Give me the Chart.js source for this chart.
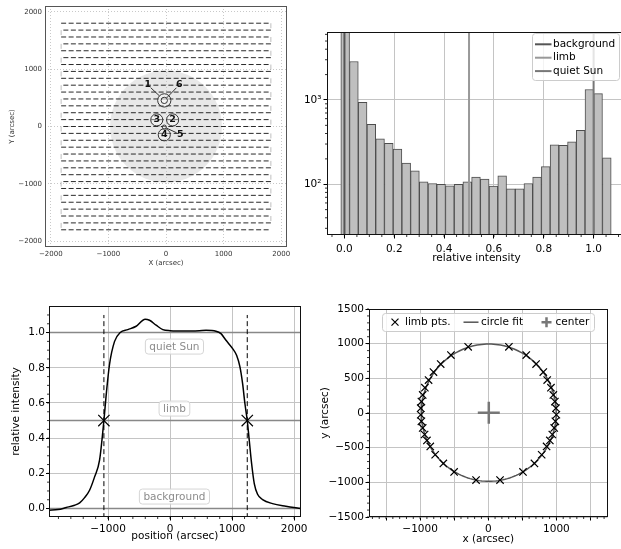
<!DOCTYPE html>
<html>
<head>
<meta charset="utf-8">
<script src="https://cdn.jsdelivr.net/npm/chart.js@4.4.1/dist/chart.umd.min.js"></script>
<style>
html, body { margin: 0; padding: 0; background: #fff; overflow: hidden; width: 621px; height: 549px; }
canvas { position: absolute; }
</style>
</head>
<body>
<canvas id="scanMap" width="300" height="270" style="left:0;top:0"></canvas>
<canvas id="histogram" width="330" height="270" style="left:300px;top:0"></canvas>
<canvas id="profile" width="310" height="279" style="left:0;top:270px"></canvas>
<canvas id="limbFit" width="311" height="279" style="left:310px;top:270px"></canvas>
<script>
// scan map (top left)
var scanRowY = [1800, 1680, 1560, 1440, 1320, 1200, 1080, 960, 840, 720, 600, 480, 360, 240, 120, 0,
    -120, -240, -360, -480, -600, -720, -840, -960, -1080, -1200, -1320, -1440, -1560, -1680, -1800];
var scanRowEnds = [-1820, 1820];
var diskCenter = [0, 0];
var diskRadius = 970;
var apertureNames = ['1', '2', '3', '4', '5', '6'];
var apertureX = [-30, 115, -160, -30, -30, -30];
var apertureY = [455, 115, 115, -145, -10, 455];
var apertureR = [115, 105, 105, 105, 35, 55];
var apertureLabelX = [-317, 115, -160, -30, 247, 229];
var apertureLabelY = [725, 115, 115, -145, -139, 725];
var mapTicks = [-2000, -1000, 0, 1000, 2000];

// histogram (top right)
var binCenters = [0.003, 0.038, 0.073, 0.108, 0.143, 0.178, 0.213, 0.248, 0.283, 0.318, 0.353, 0.388, 0.423, 0.458, 0.493, 0.528,
    0.563, 0.598, 0.633, 0.668, 0.703, 0.738, 0.773, 0.808, 0.843, 0.878, 0.913, 0.948, 0.983, 1.018, 1.053];
var binCounts = [9000, 2860, 940, 515, 345, 305, 262, 178, 144, 107, 102, 100, 96, 100, 107, 122,
    115, 95, 126, 88, 88, 102, 122, 162, 294, 290, 319, 435, 1330, 1190, 206];
var histXTicks = [0, 0.2, 0.4, 0.6, 0.8, 1.0];
var histYTicks = [100, 1000];
var levelNames = ['background', 'limb', 'quiet Sun'];
var levelValues = [0, 0.5, 1.0];

// intensity profile (bottom left)
var profileX = [-1952, -1807, -1673, -1539, -1458, -1378, -1298, -1217, -1137, -1067, -1029, -976, -895, -804, -681, -547,
    -402, -332, -225, -118, 0, 257, 472, 579, 740, 820, 901, 1008, 1072, 1126, 1169, 1206, 1244, 1276, 1314, 1357,
    1410, 1491, 1651, 1866, 2107];
var profileY = [-0.009, -0.006, 0.006, 0.019, 0.032, 0.062, 0.104, 0.18, 0.275, 0.5, 0.65, 0.82, 0.95, 1.0, 1.017, 1.036,
    1.076, 1.07, 1.042, 1.017, 1.011, 1.009, 1.011, 1.013, 1.008, 0.994, 0.956, 0.909, 0.871, 0.805, 0.71, 0.597, 0.5, 0.388, 0.256, 0.142,
    0.081, 0.051, 0.028, 0.013, 0.0];
var limbX = [-1067, 1244];
var profileXTicks = [-1000, 0, 1000, 2000];
var profileYTicks = [0, 0.2, 0.4, 0.6, 0.8, 1.0];
var levelLabelX = 70;

// limb fit (bottom right)
var limbPtsY = [955, 835, 705, 590, 475, 365, 260, 165, 70, -25, -120, -215, -310, -395, -482, -602, -727, -850, -968];
var limbPtsLeftX = [-295, -548, -698, -804, -876, -930, -962, -981, -991, -991, -981, -962, -934, -900, -851, -779, -659, -501, -179];
var limbPtsRightX = [303, 558, 702, 808, 865, 920, 955, 978, 993, 1000, 985, 968, 940, 904, 856, 784, 678, 510, 173];
var fitCenter = [8, 5];
var fitRadius = 990;
var fitTicks = [-1500, -1000, -500, 0, 500, 1000, 1500];

var levelColors = ['#555', '#999', '#777'];
var FONT = '"DejaVu Sans", sans-serif';

Chart.defaults.font.family = FONT;
Chart.defaults.font.size = 10.5;
Chart.defaults.color = '#000';
Chart.defaults.animation = false;
Chart.defaults.events = [];
Chart.defaults.plugins.legend.display = false;
Chart.defaults.plugins.tooltip.enabled = false;

function fmtInt(v) { return (v < 0 ? '\u2212' : '') + Math.abs(v); }
function fixedTicks(list) {
    return function (scale) { scale.ticks = list.map(function (v) { return {value: v}; }); };
}
function fitAxis(size) {
    return function (scale) {
        if (scale.isHorizontal()) { scale.height = size; } else { scale.width = size; }
        scale.paddingLeft = scale.paddingRight = scale.paddingTop = scale.paddingBottom = 0;
    };
}
function steps(from, to, step) {
    var out = [];
    for (var v = from; v <= to + 1e-9; v += step) out.push(+v.toFixed(6));
    return out;
}
function frame(color) {
    return {
        id: 'frame',
        afterDatasetsDraw: function (chart) {
            var a = chart.chartArea, ctx = chart.ctx;
            ctx.save();
            ctx.strokeStyle = color;
            ctx.lineWidth = 1;
            ctx.strokeRect(Math.round(a.left) + 0.5, Math.round(a.top) + 0.5, Math.round(a.right - a.left) - 1, Math.round(a.bottom - a.top) - 1);
            ctx.restore();
        }
    };
}
function minorTicks(xs, ys) {
    return {
        id: 'minorTicks',
        afterDatasetsDraw: function (chart) {
            var a = chart.chartArea, ctx = chart.ctx;
            ctx.save();
            ctx.strokeStyle = '#000';
            ctx.lineWidth = 0.8;
            ctx.beginPath();
            xs.forEach(function (v) {
                var p = chart.scales.x.getPixelForValue(v);
                if (p < a.left || p > a.right) return;
                ctx.moveTo(p, a.bottom); ctx.lineTo(p, a.bottom + 2);
            });
            ys.forEach(function (v) {
                var p = chart.scales.y.getPixelForValue(v);
                if (p < a.top || p > a.bottom) return;
                ctx.moveTo(a.left, p); ctx.lineTo(a.left - 2, p);
            });
            ctx.stroke();
            ctx.restore();
        }
    };
}

// ---------- scan map ----------
var scanPath = [];
scanRowY.forEach(function (y, i) {
    var a = i % 2 === 0 ? scanRowEnds[0] : scanRowEnds[1];
    var b = i % 2 === 0 ? scanRowEnds[1] : scanRowEnds[0];
    scanPath.push({x: a, y: y}, {x: b, y: y});
});

var sunDiskPlugin = {
    id: 'sunDisk',
    beforeDatasetsDraw: function (chart) {
        var xs = chart.scales.x, ys = chart.scales.y, ctx = chart.ctx;
        var cx = xs.getPixelForValue(diskCenter[0]), cy = ys.getPixelForValue(diskCenter[1]);
        var r = xs.getPixelForValue(diskCenter[0] + diskRadius) - cx;
        ctx.save();
        ctx.fillStyle = 'rgba(200,200,200,0.42)';
        ctx.beginPath();
        ctx.arc(cx, cy, r, 0, 2 * Math.PI);
        ctx.fill();
        ctx.restore();
    }
};

var aperturePlugin = {
    id: 'apertures',
    afterDatasetsDraw: function (chart) {
        var xs = chart.scales.x, ys = chart.scales.y, ctx = chart.ctx;
        ctx.save();
        ctx.lineWidth = 1;
        ctx.strokeStyle = '#333';
        apertureNames.forEach(function (name, i) {
            var cx = xs.getPixelForValue(apertureX[i]), cy = ys.getPixelForValue(apertureY[i]);
            var r = xs.getPixelForValue(apertureX[i] + apertureR[i]) - cx;
            ctx.beginPath();
            ctx.arc(cx, cy, r, 0, 2 * Math.PI);
            ctx.fillStyle = 'rgba(255,255,255,0.35)';
            ctx.fill();
            ctx.stroke();
        });
        ctx.font = 'bold 9.5px ' + FONT;
        ctx.textAlign = 'center';
        ctx.textBaseline = 'middle';
        ctx.fillStyle = '#111';
        apertureNames.forEach(function (name, i) {
            var cx = xs.getPixelForValue(apertureX[i]), cy = ys.getPixelForValue(apertureY[i]);
            var r = xs.getPixelForValue(apertureX[i] + apertureR[i]) - cx;
            var lx = xs.getPixelForValue(apertureLabelX[i]), ly = ys.getPixelForValue(apertureLabelY[i]);
            var d = Math.hypot(lx - cx, ly - cy);
            if (d > r + 1) {
                var ux = (cx - lx) / d, uy = (cy - ly) / d;
                ctx.beginPath();
                ctx.moveTo(lx + ux * 4, ly + uy * 4);
                ctx.lineTo(cx - ux * r, cy - uy * r);
                ctx.stroke();
            }
            ctx.fillText(name, lx, ly);
        });
        ctx.restore();
    }
};

var ctx1 = document.getElementById('scanMap').getContext('2d');
var mapChart = new Chart(ctx1, {
    type: 'scatter',
    data: {
        datasets: [{
            type: 'line',
            data: scanPath,
            borderColor: '#2a2a2a',
            borderWidth: 1,
            borderDash: [5, 2.5],
            pointRadius: 0,
            fill: false,
            segment: {
                // the turn between two rows is barely visible in the scan path
                borderColor: function (c) { return c.p0.parsed.y !== c.p1.parsed.y ? 'rgba(0,0,0,0.25)' : undefined; }
            }
        }]
    },
    options: {
        responsive: false,
        layout: {padding: {left: 0, top: 6, right: 13, bottom: 0}},
        scales: {
            x: {
                type: 'linear', min: -2100, max: 2100,
                afterBuildTicks: fixedTicks(mapTicks), afterFit: fitAxis(23),
                ticks: {font: {size: 7}, color: '#333', padding: 3, maxRotation: 0, autoSkip: false, callback: fmtInt},
                grid: {color: '#bbb', lineWidth: 0.8, drawTicks: false},
                border: {display: false, dash: [1, 2]},
                title: {display: true, text: 'X (arcsec)', font: {size: 7}, color: '#333', padding: {top: 0, bottom: 2.5}}
            },
            y: {
                type: 'linear', min: -2100, max: 2100,
                afterBuildTicks: fixedTicks(mapTicks), afterFit: fitAxis(45),
                ticks: {font: {size: 7}, color: '#333', padding: 3, autoSkip: false, callback: fmtInt},
                grid: {color: '#bbb', lineWidth: 0.8, drawTicks: false},
                border: {display: false, dash: [1, 2]},
                title: {display: true, text: 'Y (arcsec)', font: {size: 7}, color: '#333', padding: {top: 7.5, bottom: 0}}
            }
        }
    },
    plugins: [sunDiskPlugin, aperturePlugin, frame('#555')]
});

// ---------- histogram ----------
var histDatasets = [{
    type: 'bar',
    data: binCenters.map(function (x, i) { return {x: x, y: binCounts[i]}; }),
    backgroundColor: '#bfbfbf',
    borderColor: '#4d4d4d',
    borderWidth: 1,
    barPercentage: 1,
    categoryPercentage: 1,
    clip: 0,
    order: 1
}];
levelValues.forEach(function (v, i) {
    histDatasets.push({
        type: 'line',
        label: levelNames[i],
        data: [{x: v, y: 1}, {x: v, y: 1e6}],
        borderColor: levelColors[i],
        borderWidth: 2,
        pointRadius: 0,
        clip: 0,
        order: 0
    });
});

var histLegendPlugin = {
    id: 'histLegend',
    afterDraw: function (chart) {
        var ctx = chart.ctx, a = chart.chartArea;
        var x0 = a.right - 94, y0 = a.top + 1, w = 87, h = 47;
        ctx.save();
        ctx.beginPath();
        ctx.roundRect(x0 + 0.5, y0 + 0.5, w, h, 3);
        ctx.fillStyle = 'rgba(255,255,255,0.8)';
        ctx.fill();
        ctx.strokeStyle = '#ccc';
        ctx.lineWidth = 1;
        ctx.stroke();
        ctx.font = '10.5px ' + FONT;
        ctx.textBaseline = 'middle';
        ctx.fillStyle = '#000';
        chart.data.datasets.forEach(function (ds, i) {
            if (ds.type !== 'line') return;
            var y = y0 + 11.3 + (i - 1) * 13.4;
            ctx.strokeStyle = ds.borderColor;
            ctx.lineWidth = 2;
            ctx.beginPath();
            ctx.moveTo(x0 + 3, y);
            ctx.lineTo(x0 + 19.5, y);
            ctx.stroke();
            ctx.fillText(ds.label, x0 + 21, y);
        });
        ctx.restore();
    }
};

var logMinor = [];
[10, 100, 1000].forEach(function (d) { for (var m = 2; m <= 9; m++) logMinor.push(m * d); });

var ctx2 = document.getElementById('histogram').getContext('2d');
var histChart = new Chart(ctx2, {
    type: 'bar',
    data: {datasets: histDatasets},
    options: {
        responsive: false,
        layout: {padding: {left: 0, top: 32, right: 4, bottom: 0}},
        scales: {
            x: {
                type: 'linear', min: -0.07, max: 1.13, offset: false,
                afterBuildTicks: fixedTicks(histXTicks), afterFit: fitAxis(35),
                ticks: {padding: 4.5, maxRotation: 0, autoSkip: false, callback: function (v) { return v.toFixed(1); }},
                grid: {offset: false, color: '#c4c4c4', tickLength: 3.5, tickColor: '#000'},
                border: {display: false},
                title: {display: true, text: 'relative intensity', padding: {top: 0, bottom: 5.5}}
            },
            y: {
                type: 'logarithmic', min: 25, max: 6400,
                afterBuildTicks: fixedTicks(histYTicks), afterFit: fitAxis(27),
                ticks: {padding: 2, autoSkip: false, callback: function (v) { return v === 100 ? '10\u00b2' : '10\u00b3'; }},
                grid: {color: '#c4c4c4', tickLength: 3.5, tickColor: '#000'},
                border: {display: false}
            }
        }
    },
    plugins: [minorTicks(steps(-0.05, 1.1, 0.05), logMinor), frame('#111'), histLegendPlugin]
});

// ---------- intensity profile ----------
var levelBoxPlugin = {
    id: 'levelBoxes',
    afterDatasetsDraw: function (chart) {
        var ctx = chart.ctx, xs = chart.scales.x, ys = chart.scales.y;
        var shift = [-12, -12, 14];
        ctx.save();
        ctx.font = '10.5px ' + FONT;
        ctx.textAlign = 'center';
        ctx.textBaseline = 'middle';
        levelNames.forEach(function (name, i) {
            var cx = xs.getPixelForValue(levelLabelX), cy = ys.getPixelForValue(levelValues[i]) + shift[i];
            var w = ctx.measureText(name).width + 8, h = 15;
            ctx.beginPath();
            ctx.roundRect(cx - w / 2, cy - h / 2, w, h, 3);
            ctx.fillStyle = 'rgba(255,255,255,0.8)';
            ctx.fill();
            ctx.strokeStyle = '#d5d5d5';
            ctx.lineWidth = 1;
            ctx.stroke();
            ctx.fillStyle = '#8c8c8c';
            ctx.fillText(name, cx, cy + 0.5);
        });
        ctx.restore();
    }
};

var profileDatasets = [{
    type: 'line',
    data: profileX.map(function (x, i) { return {x: x, y: profileY[i]}; }),
    borderColor: '#000',
    borderWidth: 1.5,
    pointRadius: 0,
    cubicInterpolationMode: 'monotone',
    order: 0
}, {
    type: 'scatter',
    data: limbX.map(function (x) { return {x: x, y: 0.5}; }),
    pointStyle: 'crossRot',
    pointRadius: 8,
    borderColor: '#000',
    borderWidth: 1.2,
    order: 0
}];
limbX.forEach(function (x) {
    profileDatasets.push({
        type: 'line',
        data: [{x: x, y: -0.1}, {x: x, y: 1.1}],
        borderColor: '#000',
        borderWidth: 1,
        borderDash: [5, 3],
        pointRadius: 0,
        order: 1
    });
});
levelValues.forEach(function (v) {
    profileDatasets.push({
        type: 'line',
        data: [{x: -3000, y: v}, {x: 3000, y: v}],
        borderColor: '#888',
        borderWidth: 1.5,
        pointRadius: 0,
        order: 2
    });
});

var ctx3 = document.getElementById('profile').getContext('2d');
var profileChart = new Chart(ctx3, {
    type: 'scatter',
    data: {datasets: profileDatasets},
    options: {
        responsive: false,
        layout: {padding: {left: 0, top: 36, right: 8, bottom: 0}},
        scales: {
            x: {
                type: 'linear', min: -1952, max: 2107,
                afterBuildTicks: fixedTicks(profileXTicks), afterFit: fitAxis(32),
                ticks: {padding: 2.5, maxRotation: 0, autoSkip: false, callback: fmtInt},
                grid: {color: '#c4c4c4', tickLength: 3.5, tickColor: '#000'},
                border: {display: false},
                title: {display: true, text: 'position (arcsec)', padding: {top: 0, bottom: 6}}
            },
            y: {
                type: 'linear', min: -0.048, max: 1.151,
                afterBuildTicks: fixedTicks(profileYTicks), afterFit: fitAxis(49),
                ticks: {padding: 1, autoSkip: false, callback: function (v) { return v.toFixed(1); }},
                grid: {color: '#c4c4c4', tickLength: 3, tickColor: '#000'},
                border: {display: false},
                title: {display: true, text: 'relative intensity', padding: {top: 10, bottom: 0}}
            }
        }
    },
    plugins: [levelBoxPlugin, minorTicks(steps(-1800, 2000, 200), steps(0, 1.1, 0.05)), frame('#111')]
});

// ---------- limb fit ----------
var fitCircle = [];
for (var k = 0; k <= 180; k++) {
    var t = k / 180 * 2 * Math.PI;
    fitCircle.push({x: fitCenter[0] + fitRadius * Math.cos(t), y: fitCenter[1] + fitRadius * Math.sin(t)});
}
var limbPts = [];
limbPtsY.forEach(function (y, i) {
    limbPts.push({x: limbPtsLeftX[i], y: y}, {x: limbPtsRightX[i], y: y});
});

var fitLegendPlugin = {
    id: 'fitLegend',
    afterDraw: function (chart) {
        var ctx = chart.ctx, a = chart.chartArea;
        var w = 212, h = 18, x0 = Math.round((a.left + a.right) / 2 - w / 2) + 0.5, y0 = a.top + 4.5, yc = y0 + 8.7;
        var ds = chart.data.datasets;
        ctx.save();
        ctx.beginPath();
        ctx.roundRect(x0, y0, w, h, 3);
        ctx.fillStyle = 'rgba(255,255,255,0.8)';
        ctx.fill();
        ctx.strokeStyle = '#ccc';
        ctx.lineWidth = 1;
        ctx.stroke();
        ctx.strokeStyle = '#000';
        ctx.lineWidth = 1.2;
        ctx.beginPath();
        ctx.moveTo(x0 + 9, yc - 3.5); ctx.lineTo(x0 + 16, yc + 3.5);
        ctx.moveTo(x0 + 9, yc + 3.5); ctx.lineTo(x0 + 16, yc - 3.5);
        ctx.stroke();
        ctx.strokeStyle = '#555';
        ctx.lineWidth = 1.5;
        ctx.beginPath();
        ctx.moveTo(x0 + 81, yc); ctx.lineTo(x0 + 96, yc);
        ctx.stroke();
        ctx.strokeStyle = '#777';
        ctx.lineWidth = 2.5;
        ctx.beginPath();
        ctx.moveTo(x0 + 159, yc); ctx.lineTo(x0 + 169, yc);
        ctx.moveTo(x0 + 164, yc - 5); ctx.lineTo(x0 + 164, yc + 5);
        ctx.stroke();
        ctx.fillStyle = '#000';
        ctx.font = '10.5px ' + FONT;
        ctx.textBaseline = 'middle';
        ctx.fillText(ds[1].label, x0 + 22.5, yc);
        ctx.fillText(ds[0].label, x0 + 98.5, yc);
        ctx.fillText(ds[2].label, x0 + 173, yc);
        ctx.restore();
    }
};

var ctx4 = document.getElementById('limbFit').getContext('2d');
var fitChart = new Chart(ctx4, {
    type: 'scatter',
    data: {
        datasets: [{
            type: 'line',
            label: 'circle fit',
            data: fitCircle,
            borderColor: '#555',
            borderWidth: 1.5,
            pointRadius: 0,
            order: 2
        }, {
            label: 'limb pts.',
            data: limbPts,
            pointStyle: 'crossRot',
            pointRadius: 5.2,
            borderColor: '#000',
            borderWidth: 1.2,
            order: 1
        }, {
            label: 'center',
            data: [{x: fitCenter[0], y: fitCenter[1]}],
            pointStyle: 'cross',
            pointRadius: 11,
            borderColor: '#777',
            borderWidth: 2.5,
            order: 0
        }]
    },
    options: {
        responsive: false,
        layout: {padding: {left: 0, top: 39, right: 9, bottom: 0}},
        scales: {
            x: {
                type: 'linear', min: -1750, max: 1750,
                afterBuildTicks: fixedTicks(fitTicks), afterFit: fitAxis(32),
                ticks: {padding: 2, maxRotation: 0, autoSkip: false, callback: function (v) { return v % 1000 === 0 ? fmtInt(v) : ''; }},
                grid: {color: '#c4c4c4', tickLength: 3.5, tickColor: '#000'},
                border: {display: false},
                title: {display: true, text: 'x (arcsec)', padding: {top: 0, bottom: 3}}
            },
            y: {
                type: 'linear', min: -1500, max: 1500,
                afterBuildTicks: fixedTicks(fitTicks), afterFit: fitAxis(59),
                ticks: {padding: 1.5, autoSkip: false, callback: fmtInt},
                grid: {color: '#c4c4c4', tickLength: 3.5, tickColor: '#000'},
                border: {display: false},
                title: {display: true, text: 'y (arcsec)', padding: {top: 8.7, bottom: 0}}
            }
        }
    },
    plugins: [minorTicks(steps(-1700, 1700, 100), steps(-1500, 1500, 100)), frame('#111'), fitLegendPlugin]
});
</script>
</body>
</html>
